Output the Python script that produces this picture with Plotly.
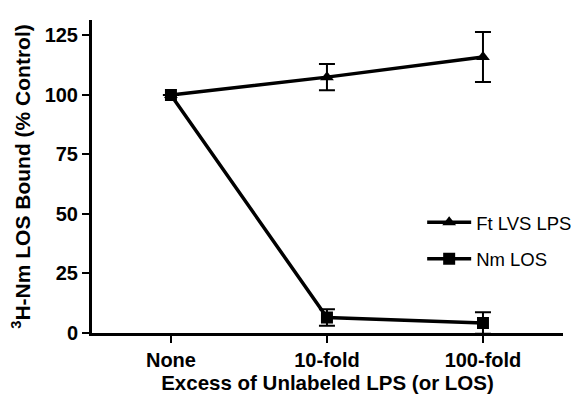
import plotly.graph_objects as go

categories = ["None", "10-fold", "100-fold"]
ft_lvs = [100, 107.5, 116]
ft_lvs_err = [0, 5.5, 10.5]
nm_los = [100, 6.5, 4.2]
nm_los_err = [0, 3.5, 4.5]

xpos = list(range(len(categories)))
font_family = "Liberation Sans, Arial, sans-serif"

fig = go.Figure()
fig.add_trace(go.Scatter(
    x=xpos, y=ft_lvs, name="Ft LVS LPS", mode="lines+markers",
    line=dict(color="black", width=3.5),
    marker=dict(symbol="triangle-up", size=12, color="black"),
    error_y=dict(type="data", array=ft_lvs_err, color="black", thickness=2, width=8),
    legend="legend", showlegend=True,
))
fig.add_trace(go.Scatter(
    x=xpos, y=nm_los, name="Nm LOS", mode="lines+markers",
    line=dict(color="black", width=3.5),
    marker=dict(symbol="square", size=12, color="black"),
    error_y=dict(type="data", array=nm_los_err, color="black", thickness=2, width=8),
    legend="legend2", showlegend=True,
))

def leg(y):
    return dict(x=0.701, y=y, xanchor="left", yanchor="middle", visible=True,
                font=dict(size=18.5, family=font_family), itemwidth=44,
                bgcolor="rgba(0,0,0,0)", borderwidth=0)

fig.update_layout(
    width=571, height=392,
    margin=dict(l=84, r=16, t=12, b=67, autoexpand=False),
    plot_bgcolor="white", paper_bgcolor="white",
    showlegend=True,
    font=dict(family=font_family, color="black"),
    legend=leg(0.352),
    legend2=leg(0.236),
    xaxis=dict(
        range=[-0.506, 2.513], tickvals=xpos, ticktext=categories,
        showline=True, linecolor="black", linewidth=3,
        ticks="outside", ticklen=7, tickwidth=2, tickcolor="black",
        showgrid=False, zeroline=False, automargin=False,
        tickfont=dict(size=20, family=font_family, weight="bold"),
        title=dict(text="<b>Excess of Unlabeled LPS (or LOS)</b>", font=dict(size=20.5), standoff=4),
    ),
    yaxis=dict(
        range=[0, 131.5], tickvals=[0, 25, 50, 75, 100, 125],
        showline=True, linecolor="black", linewidth=3,
        ticks="outside", ticklen=7, tickwidth=2, tickcolor="black",
        showgrid=False, zeroline=False, automargin=False,
        tickfont=dict(size=20, family=font_family, weight="bold"),
        title=dict(text="<b><sup>3</sup>H-Nm LOS Bound (% Control)</b>", font=dict(size=21), standoff=9),
    ),
)

fig.write_html("out.html")
